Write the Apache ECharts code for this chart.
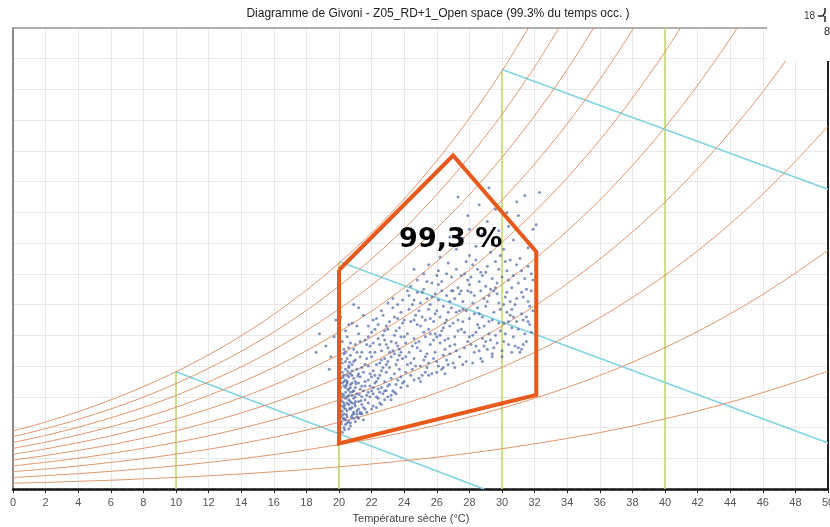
<!DOCTYPE html>
<html>
<head>
<meta charset="utf-8">
<script src="https://cdn.jsdelivr.net/npm/echarts@6/dist/echarts.min.js"></script>
<style>
html,body{margin:0;padding:0;background:#fff;}
#chart{width:830px;height:527px;}
</style>
</head>
<body>
<div id="chart"></div>
<script>
// ---- data ----
const tempSteps = [0,2,4,6,8,10,12,14,16,18,20,22,24,26,28,30,32,34,36,38,40,42,44,46,48,50];
const xTickLabels = ['0','2','4','6','8','10','12','14','16','18','20','22','24','26','28','30','32','34','36','38','40','42','44','46','48','50'];
// humidity ratio (g/kg) of constant relative-humidity curves, at tempSteps
const rh10 = [0.38,0.43,0.50,0.57,0.66,0.75,0.86,0.98,1.12,1.27,1.44,1.63,1.84,2.07,2.33,2.62,2.94,3.29,3.67,4.10,4.57,5.08,5.65,6.27,6.95,7.67];
const rh20 = [0.75,0.87,1.00,1.15,1.32,1.51,1.73,1.97,2.24,2.55,2.89,3.26,3.69,4.16,4.68,5.26,5.90,6.61,7.39,8.25,9.20,10.25,11.40,12.66,14.05,15.54];
const rh30 = [1.13,1.30,1.50,1.73,1.98,2.27,2.59,2.96,3.37,3.83,4.34,4.91,5.55,6.26,7.05,7.92,8.89,9.96,11.15,12.46,13.91,15.50,17.26,19.19,21.32,23.61];
const rh40 = [1.50,1.74,2.00,2.31,2.65,3.03,3.46,3.95,4.50,5.11,5.80,6.56,7.42,8.37,9.43,10.61,11.91,13.36,14.96,16.73,18.68,20.84,23.23,25.85,28.75,31.88];
const rh50 = [1.88,2.18,2.51,2.88,3.31,3.79,4.34,4.95,5.63,6.40,7.26,8.23,9.30,10.50,11.83,13.31,14.96,16.79,18.81,21.05,23.53,26.28,29.31,32.66];
const rh60 = [2.26,2.61,3.01,3.46,3.98,4.56,5.21,5.95,6.77,7.70,8.74,9.90,11.19,12.64,14.25,16.05,18.04,20.25,22.71,25.43,28.45,31.80];
const rh70 = [2.64,3.05,3.52,4.05,4.64,5.32,6.09,6.95,7.91,9.00,10.22,11.58,13.10,14.80,16.69,18.80,21.15,23.76,26.66,29.88,33.45];
const rh80 = [3.02,3.49,4.02,4.63,5.31,6.09,6.97,7.95,9.06,10.31,11.70,13.27,15.02,16.97,19.15,21.58,24.29,27.30,30.65];
const rh90 = [3.40,3.93,4.53,5.21,5.98,6.86,7.85,8.96,10.21,11.62,13.20,14.97,16.94,19.16,21.63,24.38,27.46,30.88];
const rh100 = [3.77,4.36,5.03,5.80,6.66,7.63,8.73,9.97,11.37,12.94,14.70,16.67,18.88,21.36,24.12,27.21,30.66];
const rhCurves = [rh10,rh20,rh30,rh40,rh50,rh60,rh70,rh80,rh90,rh100];

// vertical dry-bulb reference lines (temperature, top humidity)
const greenT = [10,20,30,40];
const greenTop = [7.63,14.75,27.25,30];
// cyan lines (wet bulb) : [T, w] points
const cyanA = [[10,7.63],[28.9,0]];
const cyanB = [[20,14.8],[50,3.0]];
const cyanC = [[30,27.3],[50,19.5]];

// comfort polygon
const zoneT = [20,20,32.1,32.1,27.0,20];
const zoneW = [14.25,2.97,6.12,15.44,21.7,14.25];
const zoneLabel = '99,3 %';
const zoneLabelPos = [26.85,16.2];

// occupied hours (dry bulb °C, humidity g/kg)
const occupiedPoints = [
[20.1,4.4],[20.2,5.1],[20.3,4.0],[20.1,5.8],[20.4,6.3],[20.2,6.9],[20.5,4.7],[20.3,7.4],[20.6,5.5],[20.1,7.9],[20.7,4.3],[20.4,8.3],[20.8,6.1],[20.2,3.7],[20.9,5.0],[20.5,7.0],[21.0,6.6],[20.3,5.6],[21.1,4.9],[20.6,8.0],[21.2,5.7],[20.7,6.8],[21.3,7.3],[20.4,4.5],[21.4,6.0],[20.8,7.7],[21.5,5.3],[20.2,6.2],[20.9,4.6],[21.0,8.4],[20.6,3.9],[21.2,6.9],[20.3,8.8],[20.5,6.0],[20.7,5.2],[21.1,7.8],[20.1,6.6],[20.4,7.1],[20.8,4.8],[21.3,5.0],[20.2,4.8],[20.6,6.5],[21.0,5.4],[20.9,7.2],[21.4,7.9],[20.3,6.7],[20.5,5.1],[20.7,7.5],[21.5,6.4],[20.1,5.0],[20.4,5.9],[20.8,5.6],[21.2,4.6],[20.6,7.3],[20.2,7.6],[21.1,6.2],[20.9,6.4],[20.3,4.9],[21.6,7.0],[20.5,8.5],[20.7,4.1],[21.3,8.6],[20.4,6.6],[20.8,8.1],[21.0,4.4],[20.2,5.4],[20.6,4.4],[21.4,5.5],[20.3,6.1],[20.9,5.9],[21.1,5.1],[20.5,6.9],[20.1,7.2],[20.7,6.3],[21.2,7.5],[20.4,4.2],[21.5,7.6],[20.6,5.8],[20.8,6.9],[21.0,7.0],[20.2,8.2],[20.3,5.3],[20.5,4.3],[21.3,6.5],[20.9,8.3],[20.7,5.7],[20.4,7.8],[21.1,4.7],[20.6,6.1],[20.2,6.0],[20.8,5.3],[21.4,6.7],[20.5,5.6],[20.3,7.0],[21.0,6.0],[20.7,8.7],[20.1,4.7],[21.2,5.2],[20.9,4.9],[20.4,5.2],[21.6,5.8],[20.6,7.9],[20.3,4.6],[20.8,7.4],[21.3,4.9],[20.5,7.4],[20.2,5.7],[21.1,8.9],[20.7,6.6],[21.0,5.7],
[20.15,4.25],[20.35,5.45],[20.55,6.45],[20.25,7.25],[20.45,4.85],[20.65,5.25],[20.85,6.35],[20.05,6.15],[20.75,4.65],[20.95,5.55],[21.05,6.85],[21.25,6.15],[20.35,3.85],[20.55,7.65],[20.15,8.45],[21.35,5.75],[21.15,7.35],[20.45,6.75],[20.65,8.25],[20.25,4.55],
[20.2,9.6],[20.4,10.3],[20.1,11.2],[20.6,9.2],[20.8,10.8],[21.0,9.4],[21.2,10.1],[21.4,8.9],[21.5,11.3],[20.9,12.0],
[20.3,9.1],[20.5,9.9],[20.7,9.5],[21.1,10.6],[21.3,9.6],[20.4,8.9],[20.9,9.1],[21.6,9.7],[21.2,11.8],[20.6,10.7],
[19.5,8.6],[19.2,9.3],[18.8,10.1],[19.7,9.9],[19.4,7.8],[18.6,8.9],[19.8,11.0],[20.0,12.2],
[21.7,5.0],[21.8,6.3],[21.9,7.5],[22.0,8.6],[21.7,9.4],[22.1,5.4],[22.2,6.9],[22.3,8.1],[22.0,10.2],[22.4,5.9],[22.5,7.4],[22.6,9.0],[21.8,8.0],[22.7,6.2],[22.8,8.5],[22.9,10.6],[23.0,6.7],[23.1,7.9],[23.2,9.6],[22.3,11.1],[23.3,6.4],[23.4,8.8],[23.5,10.3],[23.6,7.1],[23.7,9.1],[23.8,11.5],[23.9,6.9],[22.1,7.7],[22.6,6.6],[23.0,8.3],[23.4,7.5],[22.4,9.8],[22.8,7.0],[23.6,8.4],[21.9,6.0],[22.2,8.9],[22.7,10.0],[23.2,6.1],[23.8,9.9],[22.5,5.6],[23.1,10.9],[21.8,7.1],[22.9,7.6],[23.5,6.8],[22.0,6.4],[22.4,7.2],[23.3,11.8],[23.7,7.8],[22.6,11.6],[22.1,9.5],[23.0,9.2],[23.9,8.5],[21.7,8.5],[22.8,5.8],[23.4,10.0],[22.3,6.0],[23.6,12.0],[22.9,9.4],[22.2,10.4],[23.8,7.3],[21.9,8.9],[23.1,6.8],[22.5,8.2],[23.5,9.5],[22.7,7.9],[23.2,8.6],[22.0,7.3],[23.9,10.8],[22.4,6.5],[23.3,9.0],[21.6,6.7],[22.8,9.7],[23.7,10.5],[22.1,6.2],[23.0,12.1],[22.6,7.7],[23.4,6.3],[21.8,9.9],[22.9,6.4],[23.6,9.3],
[21.4,4.9],[21.6,5.2],[21.8,5.6],[21.5,4.5],[21.9,6.7],[22.1,6.6],[22.3,5.3],[22.5,6.3],[22.6,5.5],[22.8,6.4],[23.0,6.0],[23.2,5.8],[23.5,6.2],[23.8,6.6],[24.2,6.7],[24.6,7.1],[25.0,7.0],[25.5,7.4],[26.0,7.6],[26.5,7.5],[27.1,7.9],[27.6,8.1],[28.2,8.2],[28.8,8.3],[29.4,8.6],[30.0,8.6],[30.6,8.9],[31.2,9.1],
[21.6,8.1],[21.9,9.3],[22.2,7.4],[22.5,9.4],[22.8,10.3],[23.1,8.9],[23.4,11.2],[23.7,8.7],[24.0,9.9],[24.3,8.9],[24.6,11.0],[24.9,9.6],[25.2,10.2],[25.5,11.7],[25.8,10.9],[26.1,12.3],[26.4,10.5],[26.7,11.5],[27.0,12.9],[27.3,10.3],[27.6,11.7],[27.9,13.6],[28.2,12.1],[28.5,10.7],[28.8,13.9],[29.1,12.2],[29.4,11.0],[29.7,12.7],[30.0,13.8],[30.3,12.8],[30.6,10.5],[30.9,12.4],[31.2,14.2],[31.5,13.0],[31.8,10.2],
[21.7,6.1],[22.0,5.2],[22.3,7.0],[22.6,8.4],[22.9,8.1],[23.2,7.2],[23.5,8.1],[23.8,8.9],[24.1,7.6],[24.4,8.2],[24.7,9.5],[25.0,8.0],[25.3,8.6],[25.6,10.1],[25.9,8.9],[26.2,11.2],[26.5,9.7],[26.8,8.8],[27.1,9.4],[27.4,11.6],[27.7,10.2],[28.0,9.9],[28.3,12.6],[28.6,11.4],[28.9,9.3],[29.2,10.1],[29.5,12.9],[29.8,10.8],[30.1,9.6],[30.4,10.9],[30.7,11.2],[31.0,9.2],[31.3,12.5],[31.6,10.9],[31.9,13.6],
[21.8,10.6],[22.1,11.0],[22.4,10.7],[22.7,11.3],[23.0,10.4],[23.3,12.4],[23.6,11.1],[23.9,12.3],[24.2,12.9],[24.5,12.0],[24.8,13.6],[25.1,12.8],[25.4,13.5],[25.7,12.5],[26.0,13.9],[26.3,13.5],[26.6,14.0],[26.9,12.9],[27.2,14.3],[27.5,12.9],[27.8,14.8],[28.1,13.8],[28.4,14.9],[28.7,14.1],[29.0,13.2],[29.3,15.4],[29.6,13.1],[29.9,15.2],[30.2,14.8],[30.5,12.2],
[24.0,7.0],[24.1,8.6],[24.2,10.1],[24.3,11.7],[24.4,7.4],[24.5,9.3],[24.6,12.3],[24.7,8.0],[24.8,10.7],[24.9,7.2],[25.0,9.0],[25.1,11.2],[25.2,13.0],[25.3,7.6],[25.4,8.8],[25.5,10.4],[25.6,12.0],[25.7,7.5],[25.8,9.7],[25.9,11.4],[26.0,8.3],[26.1,13.3],[26.2,10.0],[26.3,7.8],[26.4,11.9],[26.5,9.1],[26.6,12.6],[26.7,8.1],[26.8,10.6],[26.9,13.8],[24.2,8.1],[24.6,9.8],[25.0,10.6],[25.4,12.4],[25.8,8.5],[26.2,9.5],[26.6,11.0],[24.4,10.9],[24.8,12.8],[25.2,8.4],[25.6,9.4],[26.0,11.6],[26.4,8.7],[26.8,9.3],[24.1,9.5],[24.5,7.8],[24.9,11.6],[25.3,9.9],[25.7,13.4],[26.1,8.0],[26.5,10.8],[26.9,11.8],[24.3,12.6],[24.7,11.3],[25.1,7.4],[25.5,8.2],[25.9,10.1],[26.3,12.9],[26.7,9.8],[24.0,11.0],[25.0,12.1],[26.0,9.9],[24.6,8.5],[25.6,11.1],[26.6,8.4],[25.3,11.0],[26.3,10.3],[24.8,9.2],[25.9,12.7],[26.8,12.2],[24.4,13.2],[25.4,7.9],[26.4,7.9],[25.2,14.0],[26.1,14.2],
[27.0,8.2],[27.1,9.9],[27.2,11.5],[27.3,13.1],[27.4,8.6],[27.5,10.4],[27.6,12.2],[27.7,14.0],[27.8,8.3],[27.9,9.6],[28.0,11.1],[28.1,12.8],[28.2,14.6],[28.3,8.9],[28.4,10.2],[28.5,11.8],[28.6,13.5],[28.7,8.5],[28.8,9.8],[28.9,12.4],[29.0,14.1],[29.1,9.1],[29.2,10.9],[29.3,13.0],[29.4,8.8],[29.5,11.5],[29.6,14.8],[29.7,9.5],[29.8,12.1],[29.9,10.3],[27.2,9.0],[27.6,10.9],[28.0,13.3],[28.4,9.3],[28.8,11.2],[29.2,12.6],[29.6,10.0],[27.4,12.7],[27.8,11.6],[28.2,10.0],[28.6,9.0],[29.0,11.9],[29.4,13.7],[27.0,10.8],[27.5,13.9],[28.1,9.4],[28.5,14.3],[28.9,10.6],[29.3,9.7],[29.7,13.4],[27.3,11.0],[27.9,12.9],[28.3,11.4],[28.7,12.9],[29.1,14.5],[29.5,9.2],[29.9,11.7],[27.1,12.4],[27.7,9.2],[28.6,10.5],[29.8,14.3],[28.0,15.2],[29.0,9.6],
[30.0,9.0],[30.1,10.8],[30.2,12.5],[30.3,14.2],[30.4,9.4],[30.5,11.3],[30.6,13.1],[30.7,9.9],[30.8,12.0],[30.9,14.6],[31.0,10.4],[31.1,8.9],[31.2,12.8],[31.3,11.0],[31.4,13.7],[31.5,9.6],[31.6,12.2],[31.7,10.7],[31.8,14.0],[31.9,11.6],[30.2,10.1],[30.6,11.7],[31.0,13.4],[31.4,10.1],[31.8,12.9],[30.4,13.6],[30.8,9.3],[31.2,11.4],[31.6,14.5],[30.1,12.0],[30.5,14.9],[30.9,10.9],[31.3,9.4],[31.7,11.9],[30.3,11.5],[31.1,15.0],[30.7,13.9],[31.5,11.2],
[24.6,14.3],[25.5,14.6],[26.2,15.1],[26.7,14.7],[27.2,15.6],[27.6,16.3],[28.0,16.9],[28.4,15.8],[28.8,16.6],[29.1,17.4],[29.4,15.9],[29.8,16.8],[30.1,15.6],[30.4,17.1],[30.7,16.2],[31.0,17.8],[31.3,16.5],[31.6,15.7],[31.9,16.9],[29.6,18.2],[30.9,18.7],[28.6,18.5],[27.9,17.8],[31.4,19.1],[32.3,19.3],[32.1,17.2],[27.3,19.0],[29.2,19.6],[30.3,18.0],[26.8,16.4]
];

const titleText = 'Diagramme de Givoni - Z05_RD+1_Open space (99.3% du temps occ. )';
const xAxisTitle = 'Température sèche (°C)';

// ---- chart ----
const chart = echarts.init(document.getElementById('chart'), null, {renderer:'canvas'});
const series = [];

greenT.forEach((t,i) => {
  series.push({type:'line', data:[[t,0],[t,greenTop[i]]], symbol:'none', silent:true,
    lineStyle:{color:'#c6da6c', width:1.6}, z:2});
});
[cyanA,cyanB,cyanC].forEach(seg => {
  series.push({type:'line', data:seg, symbol:'none', silent:true,
    lineStyle:{color:'#80d3e3', width:1.6}, z:3});
});
rhCurves.forEach(arr => {
  series.push({type:'line', data:arr.map((w,i)=>[tempSteps[i],w]), symbol:'none', smooth:0.3,
    silent:true, lineStyle:{color:'#e0966c', width:1}, z:4});
});
series.push({type:'scatter', data:occupiedPoints, symbolSize:3, silent:true,
  itemStyle:{color:'rgba(72,98,165,0.85)'}, z:5});
series.push({type:'line', data:zoneT.map((t,i)=>[t,zoneW[i]]), symbol:'none', silent:true,
  lineStyle:{color:'#e8591c', width:4, join:'miter'}, z:6});

chart.setOption({
  animation:false,
  backgroundColor:'#fff',
  grid:{left:13, right:2, top:28, bottom:38, containLabel:false, outerBoundsMode:'none'},
  xAxis:[{
    type:'value', min:0, max:50, interval:2,
    axisLine:{show:true, onZero:false, lineStyle:{color:'#111', width:2.5}},
    axisTick:{show:true, length:4, lineStyle:{color:'#222'}},
    minorTick:{show:true, splitNumber:4, length:2, lineStyle:{color:'#444'}},
    axisLabel:{margin:8, fontSize:11, color:'#555', fontFamily:'Liberation Sans',
      showMaxLabel:true, formatter:(v)=>xTickLabels[Math.round(v/2)]},
    splitLine:{show:true, lineStyle:{color:'#e9e9e9', width:1}}
  },{
    type:'value', min:0, max:50, position:'top',
    axisLine:{show:true, onZero:false, lineStyle:{color:'#999', width:1.5}},
    axisTick:{show:false}, axisLabel:{show:false}, splitLine:{show:false}
  }],
  yAxis:[{
    type:'value', min:0, max:30, interval:2,
    axisLine:{show:true, onZero:false, lineStyle:{color:'#8a8a8a', width:2}},
    axisTick:{show:false}, axisLabel:{show:false},
    splitLine:{show:true, lineStyle:{color:'#e9e9e9', width:1}}
  },{
    type:'value', min:0, max:30, position:'right',
    axisLine:{show:true, onZero:false, lineStyle:{color:'#222', width:2}},
    axisTick:{show:false}, axisLabel:{show:false}, splitLine:{show:false}
  }],
  series:series
});

const labelPx = chart.convertToPixel({xAxisIndex:0, yAxisIndex:0}, zoneLabelPos);
chart.setOption({
  graphic:[
    {type:'text', z:100, style:{x:labelPx[0], y:labelPx[1], text:zoneLabel, textAlign:'center', textVerticalAlign:'middle',
      fontFamily:'DejaVu Sans', fontWeight:'bold', fontSize:27, fill:'#000'}},
    {type:'text', z:100, style:{x:438, y:14, text:titleText, textAlign:'center', textVerticalAlign:'middle',
      fontFamily:'Liberation Sans', fontSize:12, fill:'#222'}},
    {type:'text', z:100, style:{x:411, y:519, text:xAxisTitle, textAlign:'center', textVerticalAlign:'middle',
      fontFamily:'Liberation Sans', fontSize:11, fill:'#444'}},
    {type:'rect', z:90, shape:{x:767, y:0, width:63, height:61}, style:{fill:'#fff'}},
    {type:'text', z:100, style:{x:804, y:16, text:'18', textVerticalAlign:'middle',
      fontFamily:'Liberation Sans', fontSize:10, fill:'#333'}},
    {type:'polyline', z:100, shape:{points:[[818,16],[823,16],[825,12],[825,8]]}, style:{stroke:'#222', lineWidth:1.5, fill:null}},
    {type:'polyline', z:100, shape:{points:[[825,16],[825,22]]}, style:{stroke:'#222', lineWidth:1.5, fill:null}},
    {type:'text', z:100, style:{x:824, y:32, text:'8', textVerticalAlign:'middle',
      fontFamily:'Liberation Sans', fontSize:11, fill:'#222'}}
  ]
});
</script>
</body>
</html>
